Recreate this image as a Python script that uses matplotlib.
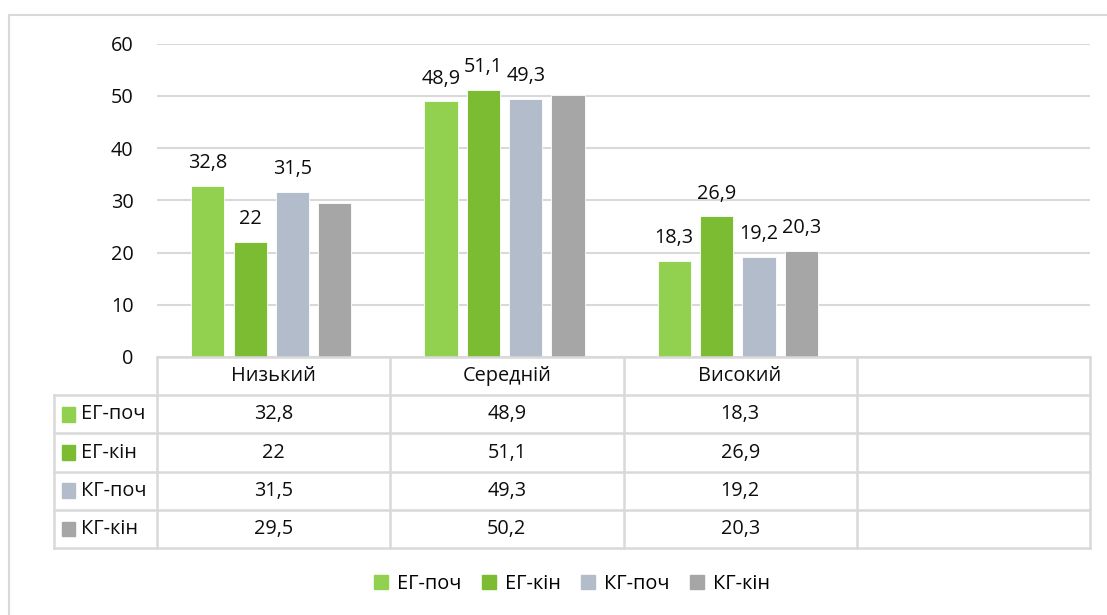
import numpy as np
import matplotlib.pyplot as plt
from matplotlib.patches import Rectangle
from matplotlib.lines import Line2D

plt.rcParams['font.family'] = ['Open Sans', 'DejaVu Sans']

categories = ['Низький', 'Середній', 'Високий', '']
series = ['ЕГ-поч', 'ЕГ-кін', 'КГ-поч', 'КГ-кін']
eg_poch = [32.8, 48.9, 18.3]
eg_kin = [22, 51.1, 26.9]
kg_poch = [31.5, 49.3, 19.2]
kg_kin = [29.5, 50.2, 20.3]
# which bar labels are shown above the bars
show_label = [[True, True, True], [True, True, True],
              [True, True, True], [False, False, True]]
colors = ['#92D050', '#7CBC32', '#B3BCCA', '#A6A6A6']
grid_c = '#D9D9D9'
txt_c = '#0d0d0d'
fs = 14.3

values = [eg_poch, eg_kin, kg_poch, kg_kin]


def fmt(v):
    s = ('%g' % v)
    return s.replace('.', ',')


W, H = 1107, 615
fig = plt.figure(figsize=(W / 100, H / 100), dpi=100)

# outer chart frame (only top and left visible)
fig.add_artist(Line2D([8.5 / W, 8.5 / W], [0, 1 - 14.5 / H], color=grid_c, lw=1.5))
fig.add_artist(Line2D([8.5 / W, 1], [1 - 14.5 / H, 1 - 14.5 / H], color=grid_c, lw=1.5))

x0, x1 = 157, 1090
y_top, y_zero = 43.5, 357
ax = fig.add_axes([x0 / W, 1 - y_zero / H, (x1 - x0) / W, (y_zero - y_top) / H])

x = np.arange(3)
bw = 0.142
step = 0.1815
for i, vals in enumerate(values):
    pos = x - 0.01 + (i - 1.5) * step
    bars = ax.bar(pos, vals, bw, color=colors[i], edgecolor='white', linewidth=0.6, zorder=3)
    for j, b in enumerate(bars):
        if show_label[i][j]:
            ax.annotate(fmt(vals[j]), (b.get_x() + b.get_width() / 2, b.get_height()),
                        xytext=(0, 16.5), textcoords='offset points',
                        ha='center', va='center', fontsize=fs, color=txt_c)

ax.set_xlim(-0.5, 3.5)
ax.set_ylim(0, 60)
ax.set_yticks(range(0, 61, 10))
ax.yaxis.grid(True, color=grid_c, lw=1.5, zorder=0)
ax.set_xticks([])
for s in ax.spines.values():
    s.set_visible(False)
ax.tick_params(axis='y', length=0, pad=17, labelsize=fs, labelcolor=txt_c)

# data table under the plot
t_left, t_bottom = 54, 548
tab = fig.add_axes([t_left / W, 1 - t_bottom / H, (x1 - t_left) / W, (t_bottom - y_zero) / H])
unit = (x1 - x0) / 4.0
lx = -0.5 - (x0 - t_left) / unit
tab.set_xlim(lx, 3.5)
tab.set_ylim(5, 0)
tab.axis('off')
lkw = dict(color=grid_c, lw=1.8, clip_on=False, solid_capstyle='projecting')

# header row
tab.plot([-0.5, 3.5], [0, 0], **lkw)
for r in range(1, 6):
    tab.plot([lx, 3.5], [r, r], **lkw)
for c in range(5):
    tab.plot([c - 0.5, c - 0.5], [0, 5], **lkw)
tab.plot([lx, lx], [1, 5], **lkw)

for c, name in enumerate(categories):
    tab.text(c, 0.5, name, ha='center', va='center', fontsize=fs, color=txt_c)

px = 1.0 / unit
for i, name in enumerate(series):
    tab.add_patch(Rectangle((lx + 8 * px, i + 1.5 - 0.19), 13 * px, 0.38,
                            color=colors[i], clip_on=False))
    tab.text(lx + 27 * px, i + 1.5, name, ha='left', va='center', fontsize=fs,
             color=txt_c)
    for j, v in enumerate(values[i]):
        tab.text(j, i + 1.5, fmt(v), ha='center', va='center', fontsize=fs,
                 color=txt_c)

# legend
handles = [Rectangle((0, 0), 1, 1, color=c) for c in colors]
fig.legend(handles, series, loc='center', bbox_to_anchor=(572 / W, 1 - 584 / H),
           ncol=4, frameon=False, fontsize=fs, handlelength=0.7, handleheight=0.7,
           handletextpad=0.45, columnspacing=1.05)

fig.savefig('out.png', dpi=100, facecolor='white')
